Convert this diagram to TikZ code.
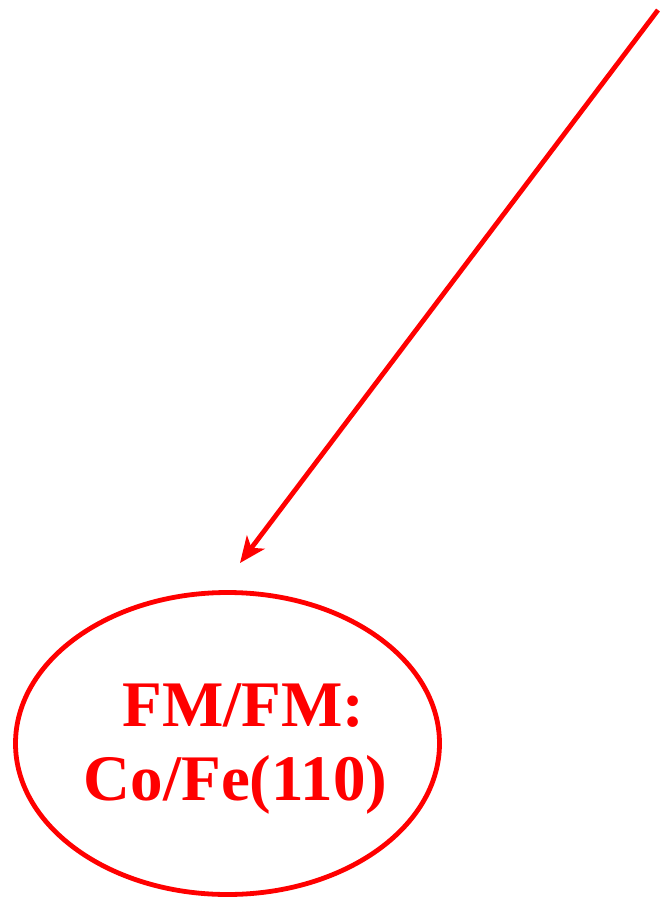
\documentclass[tikz,border=0pt]{standalone}
\usepackage{fontspec}
\setmainfont{Liberation Serif}
\usetikzlibrary{arrows.meta,shapes.geometric}
\begin{document}
\begin{tikzpicture}[
x=0.5pt, y=-0.5pt,
oval/.style={draw=red, ellipse, line width=2.4pt, inner sep=0pt,
  minimum width=212pt, minimum height=151pt},
oval text/.style={text=red, align=center, inner sep=0pt, font=\bfseries\fontsize{32.5}{37}\selectfont},
arrow/.style={-{Stealth[length=13pt,width=11pt,inset=3.5pt]}, draw=red, line width=2.4pt}
]
\useasboundingbox (0,0) rectangle (667,909);
\node[oval] (fmfm) at (227.5,743.5) {};
\node[oval text, yshift=-3pt] (fmfmtext) at (fmfm.center) {\hspace*{16pt}FM/FM:\\\hspace*{8pt}Co/Fe(110)};
\coordinate (src) at (658,10);
\coordinate (tip) at (240,563);
\draw[arrow] (src) -- (tip);
\end{tikzpicture}
\end{document}
